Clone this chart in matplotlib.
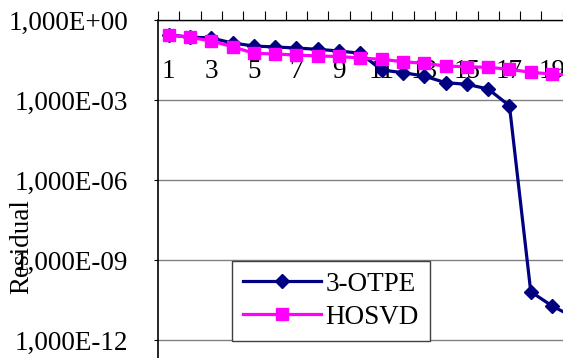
import matplotlib
matplotlib.use("Agg")
import matplotlib.pyplot as plt
from matplotlib.ticker import FixedLocator, FuncFormatter, NullFormatter

plt.rcParams["font.family"] = ["Liberation Serif", "DejaVu Serif"]

steps = list(range(1, 21))
otpe = [0.274, 0.23, 0.211, 0.137, 0.106, 0.0972, 0.089, 0.0796, 0.0688, 0.0564,
        0.0133, 0.0106, 0.0079, 0.00446, 0.00388, 0.00259, 6.1e-4, 6.5e-11, 1.9e-11, 7.3e-12]
hosvd = [0.274, 0.224, 0.163, 0.0998, 0.0564, 0.0531, 0.0487, 0.0447, 0.0428, 0.0376,
         0.0336, 0.0273, 0.0238, 0.0188, 0.0177, 0.0168, 0.0142, 0.0109, 0.0094, 0.0087]
y_ticks = [1e0, 1e-3, 1e-6, 1e-9, 1e-12]
x_labels = [1, 3, 5, 7, 9, 11, 13, 15, 17, 19]

fs = 19.5
fig = plt.figure(figsize=(5.63, 3.58), dpi=100)
# the original picture is cropped at right and bottom, so the axes run past the edges
ax = fig.add_axes([158 / 563, -8.7 / 358, 426 / 563, 346.7 / 358])

ax.plot(steps, otpe, color="#000080", lw=2.3, marker="D", ms=6.8, label="3-OTPE", zorder=2)
ax.plot(steps, hosvd, color="#FF00FF", lw=2.3, marker="s", ms=8.2, label="HOSVD", zorder=3)

ax.set_yscale("log")
ax.set_ylim(1e-13, 1e0)
ax.set_xlim(0.5, len(steps) + 0.5)

ax.yaxis.set_major_locator(FixedLocator(y_ticks))
ax.yaxis.set_minor_locator(FixedLocator([]))
ax.yaxis.set_major_formatter(FuncFormatter(lambda v, p: ("%.3E" % v).replace(".", ",")))
ax.tick_params(axis="y", which="major", direction="out", length=3, width=0.8,
               pad=18.5, labelsize=fs)
ax.grid(axis="y", color="#808080", lw=1)

# category boundary ticks on top, labels for odd categories pushed down into the plot
ax.xaxis.tick_top()
ax.xaxis.set_major_locator(FixedLocator([i + 0.5 for i in range(0, len(steps) + 1)]))
ax.xaxis.set_major_formatter(NullFormatter())
ax.xaxis.set_minor_locator(FixedLocator(x_labels))
ax.xaxis.set_minor_formatter(FuncFormatter(lambda v, p: "%d" % v))
ax.tick_params(axis="x", which="major", direction="out", length=6.5, width=0.8)
ax.tick_params(axis="x", which="minor", length=0, pad=-46, labelsize=fs)

for s in ["right", "bottom"]:
    ax.spines[s].set_visible(False)
ax.spines["top"].set_linewidth(1)
ax.spines["left"].set_linewidth(1.2)

fig.text(22 / 563, 1 - 247 / 358, "Residual", rotation=90, ha="center", va="center",
         fontsize=fs)

leg = ax.legend(loc="upper left", bbox_to_anchor=(232 / 563, 1 - 261 / 358),
                bbox_transform=fig.transFigure, fontsize=fs, frameon=True,
                fancybox=False, framealpha=1, edgecolor="#404040", borderpad=0.4,
                labelspacing=0.3, handlelength=2.9, handletextpad=0.15,
                borderaxespad=0)
leg.get_frame().set_linewidth(1)

fig.savefig("out.png", dpi=100)
